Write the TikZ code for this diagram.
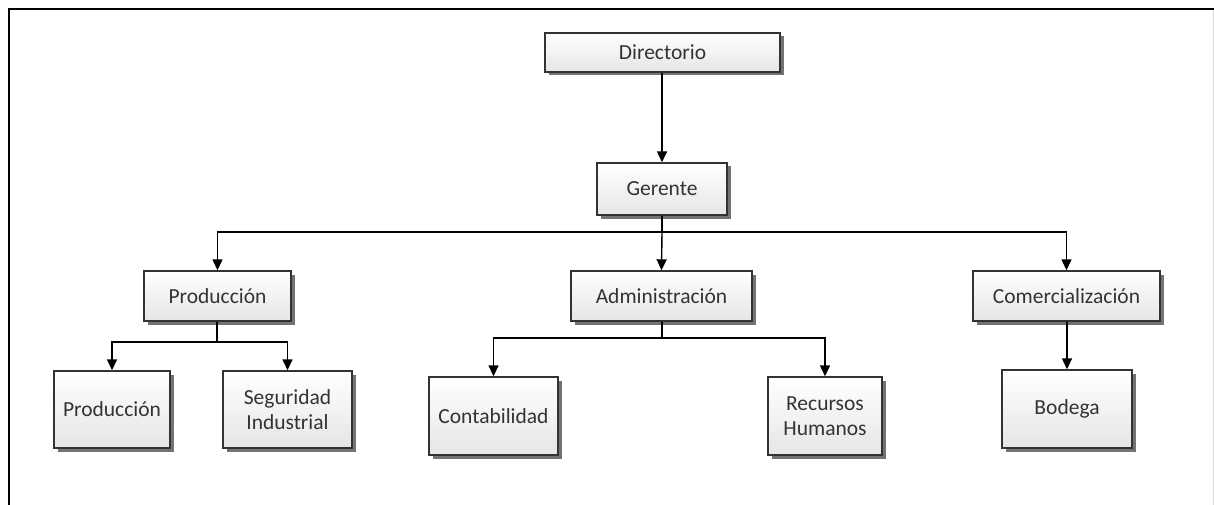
\documentclass[tikz,border=0pt]{standalone}
\usepackage{fontspec}
\setmainfont{Carlito}
\usetikzlibrary{arrows.meta,shadows}
\begin{document}
\begin{tikzpicture}[x=1pt,y=-1pt,
  orgbox/.style={rectangle, draw=black!80, line width=1.4pt,
    top color=white, bottom color=black!10,
    text=black!80, align=center, inner sep=0pt,
    font=\fontsize{21.5}{25}\selectfont,
    drop shadow={shadow xshift=3.5pt, shadow yshift=-3.5pt, fill=black!55, opacity=1}},
  link/.style={draw=black, line width=1.4pt, -{Triangle[length=11pt,width=10pt]}},
  frame/.style={line width=2pt, black}]
  \useasboundingbox (0,0) rectangle (1214,505);
  % frame
  \draw[frame] (9,505) -- (9,9) -- (1214,9);
  \draw[black!15, line width=1pt] (1213,10) -- (1213,505);

  % boxes
  \node[orgbox, minimum width=235pt, minimum height=39pt] (dir) at (662.5,52.5) {Directorio};
  \node[orgbox, minimum width=130pt, minimum height=52pt] (ger) at (662,189) {Gerente};
  \node[orgbox, minimum width=147pt, minimum height=50pt] (prod) at (217.5,296) {Producción};
  \node[orgbox, minimum width=181pt, minimum height=50pt] (adm) at (661.5,296) {Administración};
  \node[orgbox, minimum width=187pt, minimum height=50pt] (com) at (1066.5,296) {Comercialización};
  \node[orgbox, minimum width=116pt, minimum height=77pt] (prodb) at (112,409.5) {Producción};
  \node[orgbox, minimum width=129pt, minimum height=77pt] (seg) at (287.5,409.5) {Seguridad\\Industrial};
  \node[orgbox, minimum width=129pt, minimum height=78pt] (cont) at (493.5,416) {Contabilidad};
  \node[orgbox, minimum width=114pt, minimum height=78pt] (rec) at (825,416) {Recursos\\Humanos};
  \node[orgbox, minimum width=130pt, minimum height=78pt] (bod) at (1067,409) {Bodega};

  % bus junctions
  \coordinate (bg) at (662,232);
  \coordinate (bp) at (217,342);
  \coordinate (ba) at (662,338);

  % connectors
  \draw[link] (dir.south -| ger.north) -- (ger.north);
  \draw[link] (ger.south) -- (bg) -| (prod.north);
  \draw[link] (bg) -- (adm.north);
  \draw[link] (bg) -| (com.north);
  \draw[link] (prod.south -| bp) -- (bp) -| (prodb.north);
  \draw[link] (bp) -| (seg.north);
  \draw[link] (adm.south -| ba) -- (ba) -| (cont.north);
  \draw[link] (ba) -| (rec.north);
  \draw[link] (com.south -| bod.north) -- (bod.north);
\end{tikzpicture}
\end{document}
